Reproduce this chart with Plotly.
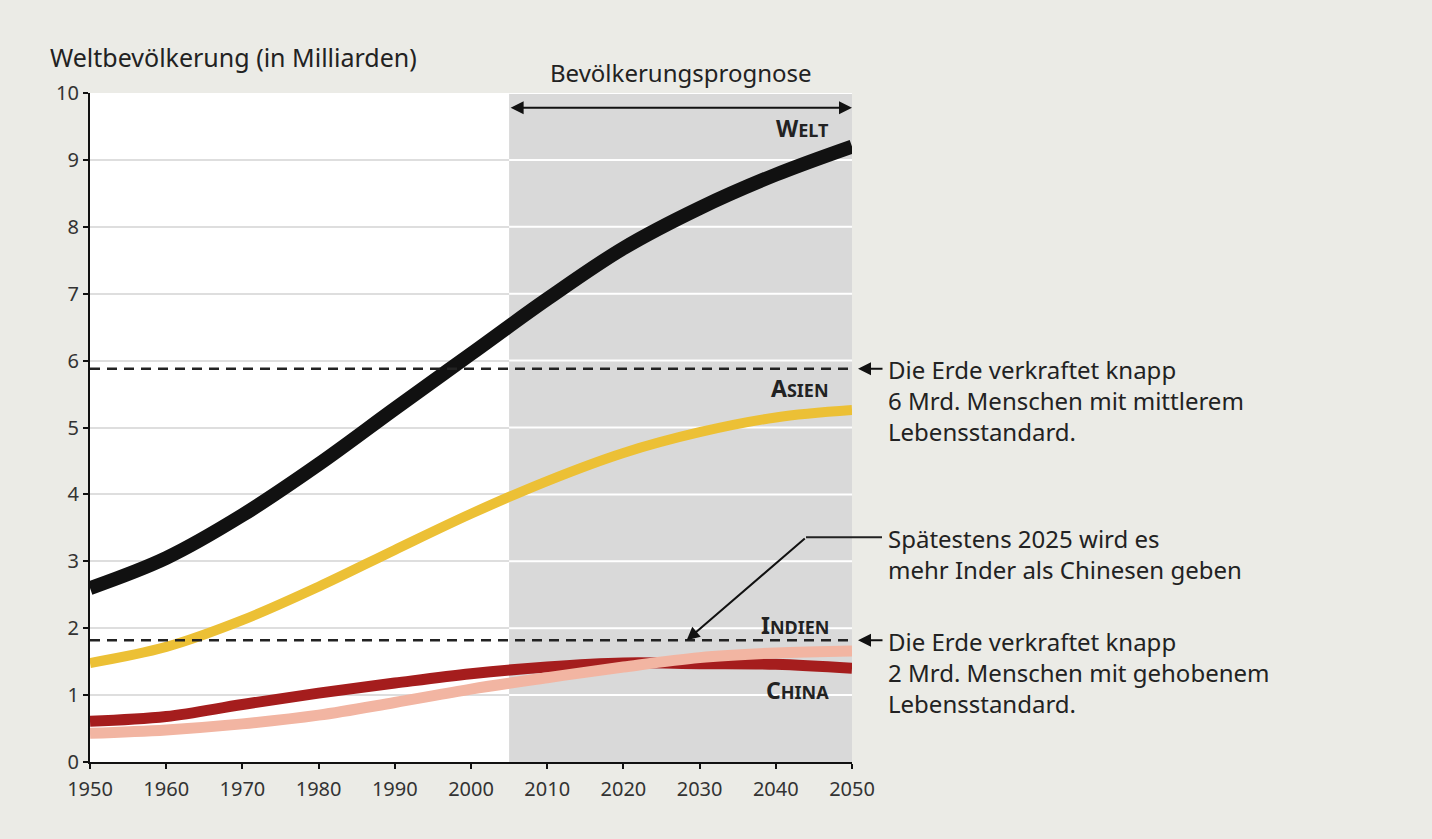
import plotly.graph_objects as go

years = [1950, 1960, 1970, 1980, 1990, 2000, 2010, 2020, 2030, 2040, 2050]
welt = [2.6, 3.05, 3.69, 4.45, 5.28, 6.1, 6.92, 7.68, 8.28, 8.78, 9.2]
asien = [1.48, 1.72, 2.12, 2.62, 3.17, 3.71, 4.2, 4.62, 4.93, 5.15, 5.26]
china = [0.61, 0.68, 0.86, 1.03, 1.18, 1.32, 1.42, 1.48, 1.47, 1.46, 1.4]
indien = [0.43, 0.48, 0.57, 0.7, 0.89, 1.09, 1.26, 1.42, 1.56, 1.63, 1.66]

prognose_start = 2005
limit_mittel = 5.88
limit_gehoben = 1.82
x_ticks = [1950, 1960, 1970, 1980, 1990, 2000, 2010, 2020, 2030, 2040, 2050]
y_ticks = list(range(0, 11))

FONT = "Noto Sans"
BG = "#ebebe6"

fig = go.Figure()
series = [
    ("Welt", welt, "#111111", 14),
    ("Asien", asien, "#ecc035", 10),
    ("China", china, "#a51d1d", 11),
    ("Indien", indien, "#f2b5a2", 11),
]
for name, vals, col, w in series:
    fig.add_trace(go.Scatter(x=years, y=vals, mode="lines", name=name,
                             line=dict(color=col, width=w, shape="spline", smoothing=1.0),
                             hoverinfo="skip"))

shapes = []
shapes.append(dict(type="rect", xref="x", yref="y", x0=prognose_start, x1=2050, y0=0, y1=10,
                   fillcolor="#d9d9d9", line=dict(width=0), layer="between"))
for yv in y_ticks[1:]:
    shapes.append(dict(type="line", xref="x", yref="y", x0=prognose_start, x1=2050, y0=yv, y1=yv,
                       line=dict(color="white", width=2), layer="between"))
for yv in (limit_mittel, limit_gehoben):
    shapes.append(dict(type="line", xref="x", yref="y", x0=1950, x1=2050, y0=yv, y1=yv,
                       line=dict(color="#222", width=2.5, dash="10px,7px"), layer="above"))
shapes.append(dict(type="line", xref="paper", yref="y", x0=(882 - 90) / 762, x1=(806 - 90) / 762,
                   y0=3.36, y1=3.36, line=dict(color="#222", width=2)))

fig.update_layout(shapes=shapes)

ann = []
ann.append(dict(xref="paper", yref="paper", x=-0.055, y=1.054, xanchor="left", yanchor="middle",
                text="Weltbevölkerung (in Milliarden)", showarrow=False,
                font=dict(family=FONT, size=25, color="#222")))
ann.append(dict(xref="x", yref="paper", x=2027.5, y=1.03, xanchor="center", yanchor="middle",
                text="Bevölkerungsprognose", showarrow=False,
                font=dict(family=FONT, size=24, color="#222")))
ann.append(dict(xref="x", yref="y", x=2050, y=9.78, axref="x", ayref="y", ax=2005, ay=9.78,
                text="", showarrow=True, arrowhead=2, startarrowhead=2, arrowside="end+start",
                arrowsize=1.3, startarrowsize=1.3, arrowwidth=2, arrowcolor="#111"))

def sc(big, small, s2=18):
    return f"<b>{big}<span style='font-size:{s2}px'>{small}</span></b>"

for txt, yv in [(sc("W", "ELT"), 9.48), (sc("A", "SIEN"), 5.59), (sc("I", "NDIEN"), 2.05), (sc("C", "HINA"), 1.08)]:
    ann.append(dict(xref="x", yref="y", x=2047.3, y=yv, xanchor="right", yanchor="middle",
                    text=txt, showarrow=False, font=dict(family=FONT, size=23, color="#222")))

for yv in (limit_mittel, limit_gehoben):
    ann.append(dict(xref="paper", yref="y", x=(858 - 90) / 762, y=yv, axref="pixel", ayref="pixel",
                    ax=26, ay=0, text="", showarrow=True, arrowhead=2, arrowsize=1.3,
                    arrowwidth=2, arrowcolor="#111"))
ann.append(dict(xref="x", yref="y", x=2028.3, y=1.82, axref="x", ayref="y", ax=2044, ay=3.36,
                text="", showarrow=True, arrowhead=2, arrowsize=1.3, arrowwidth=2, arrowcolor="#111"))

tx = (886 - 90) / 762
notes = [
    ("Die Erde verkraftet knapp<br>6 Mrd. Menschen mit mittlerem<br>Lebensstandard.", 6.14),
    ("Spätestens 2025 wird es<br>mehr Inder als Chinesen geben", 3.62),
    ("Die Erde verkraftet knapp<br>2 Mrd. Menschen mit gehobenem<br>Lebensstandard.", 2.08),
]
for t, yv in notes:
    ann.append(dict(xref="paper", yref="y", x=tx, y=yv, xanchor="left", yanchor="top", align="left",
                    text=t, showarrow=False, font=dict(family=FONT, size=24, color="#222")))

fig.update_layout(
    annotations=ann,
    width=1432, height=839,
    margin=dict(l=90, r=580, t=93, b=77),
    paper_bgcolor=BG, plot_bgcolor="white",
    showlegend=False,
    font=dict(family=FONT, color="#333"),
    xaxis=dict(range=[1950, 2050], tickvals=x_ticks, showgrid=False, zeroline=False,
               showline=True, linecolor="#111", linewidth=2, ticks="outside", ticklen=5,
               tickcolor="#111", tickwidth=2, ticklabelstandoff=3,
               tickfont=dict(family=FONT, size=20, color="#333")),
    yaxis=dict(range=[0, 10], tickvals=y_ticks, showgrid=True, gridcolor="#dedede", gridwidth=2,
               zeroline=False, showline=True, linecolor="#111", linewidth=2, ticks="outside",
               ticklen=5, tickcolor="#111", tickwidth=2,
               tickfont=dict(family=FONT, size=20, color="#333")),
)

fig.write_html("out.html", config={"displayModeBar": False},
               post_script="document.body.style.margin='0';document.body.style.background='#ebebe6';")
